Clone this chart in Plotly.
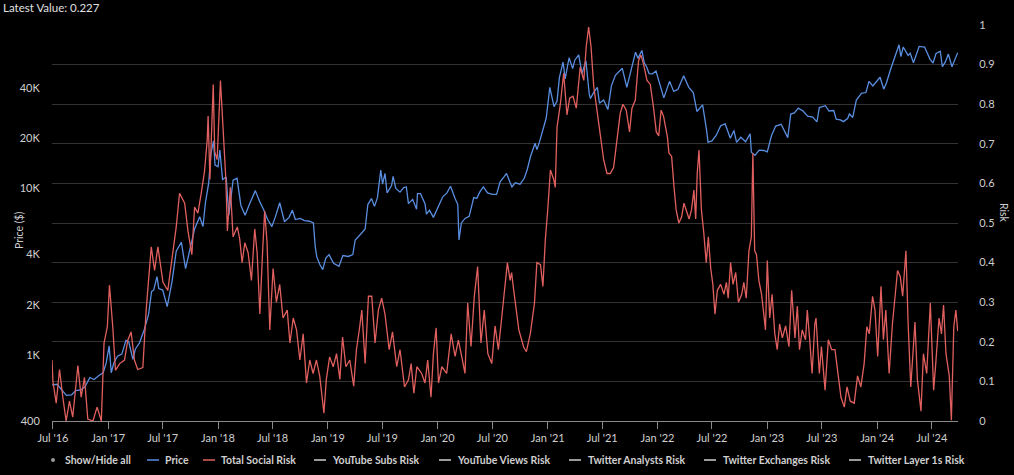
import math
import plotly.graph_objects as go

# ---------------- data ----------------
price_dates = [
    "2016-06-28", "2016-07-15", "2016-08-01", "2016-08-15", "2016-09-01", "2016-09-15", "2016-10-01",
    "2016-10-15", "2016-11-01", "2016-11-15", "2016-12-01", "2016-12-15", "2016-12-25", "2017-01-04",
    "2017-01-11", "2017-01-20", "2017-02-01", "2017-02-15", "2017-03-01", "2017-03-10", "2017-03-24",
    "2017-04-01", "2017-04-15", "2017-05-01", "2017-05-15", "2017-05-25", "2017-06-01", "2017-06-12",
    "2017-06-18", "2017-07-01", "2017-07-16", "2017-08-01", "2017-08-15", "2017-09-01", "2017-09-15",
    "2017-10-01", "2017-10-15", "2017-11-01", "2017-11-12", "2017-11-20", "2017-12-01", "2017-12-08",
    "2017-12-17", "2017-12-22", "2018-01-01", "2018-01-07", "2018-01-16", "2018-01-28", "2018-02-06",
    "2018-02-20", "2018-03-05", "2018-03-18", "2018-04-01", "2018-04-15", "2018-05-05", "2018-05-20",
    "2018-06-01", "2018-06-15", "2018-06-29", "2018-07-10", "2018-07-25", "2018-08-10", "2018-08-25",
    "2018-09-05", "2018-09-15", "2018-10-01", "2018-10-15", "2018-11-01", "2018-11-14", "2018-11-20",
    "2018-11-25", "2018-12-05", "2018-12-15", "2018-12-25", "2019-01-05", "2019-01-20", "2019-02-07",
    "2019-02-20", "2019-03-10", "2019-03-25", "2019-04-02", "2019-04-20", "2019-05-05", "2019-05-14",
    "2019-05-26", "2019-06-05", "2019-06-15", "2019-06-26", "2019-07-02", "2019-07-10", "2019-07-17",
    "2019-08-01", "2019-08-06", "2019-08-15", "2019-08-29", "2019-09-10", "2019-09-19", "2019-09-26",
    "2019-10-10", "2019-10-23", "2019-10-26", "2019-11-05", "2019-11-20", "2019-11-25", "2019-12-05",
    "2019-12-18", "2019-12-28", "2020-01-08", "2020-01-18", "2020-02-01", "2020-02-13", "2020-02-28",
    "2020-03-08", "2020-03-12", "2020-03-20", "2020-04-01", "2020-04-15", "2020-04-30", "2020-05-10",
    "2020-05-20", "2020-06-01", "2020-06-15", "2020-07-01", "2020-07-15", "2020-07-27", "2020-08-10",
    "2020-08-17", "2020-09-04", "2020-09-15", "2020-10-01", "2020-10-15", "2020-10-25", "2020-11-05",
    "2020-11-20", "2020-11-26", "2020-12-05", "2020-12-17", "2020-12-27", "2021-01-08", "2021-01-22",
    "2021-02-01", "2021-02-09", "2021-02-21", "2021-02-28", "2021-03-13", "2021-03-25", "2021-04-01",
    "2021-04-14", "2021-04-25", "2021-05-08", "2021-05-19", "2021-05-23", "2021-06-02", "2021-06-15",
    "2021-06-22", "2021-07-06", "2021-07-20", "2021-08-01", "2021-08-14", "2021-08-23", "2021-09-06",
    "2021-09-21", "2021-10-01", "2021-10-15", "2021-10-20", "2021-10-28", "2021-11-10", "2021-11-18",
    "2021-11-26", "2021-12-04", "2021-12-15", "2021-12-27", "2022-01-10", "2022-01-22", "2022-02-10",
    "2022-02-24", "2022-03-10", "2022-03-29", "2022-04-15", "2022-04-30", "2022-05-12", "2022-05-31",
    "2022-06-13", "2022-06-18", "2022-07-01", "2022-07-15", "2022-07-30", "2022-08-14", "2022-08-31",
    "2022-09-12", "2022-09-21", "2022-10-05", "2022-10-21", "2022-11-05", "2022-11-09", "2022-11-21",
    "2022-12-05", "2022-12-20", "2023-01-01", "2023-01-15", "2023-01-29", "2023-02-16", "2023-03-10",
    "2023-03-20", "2023-04-01", "2023-04-14", "2023-04-30", "2023-05-15", "2023-06-01", "2023-06-15",
    "2023-06-23", "2023-07-13", "2023-07-25", "2023-08-10", "2023-08-18", "2023-09-01", "2023-09-11",
    "2023-09-25", "2023-10-01", "2023-10-12", "2023-10-24", "2023-11-10", "2023-11-25", "2023-12-05",
    "2023-12-18", "2024-01-01", "2024-01-11", "2024-01-23", "2024-02-01", "2024-02-15", "2024-03-01",
    "2024-03-14", "2024-03-20", "2024-03-28", "2024-04-13", "2024-04-20", "2024-05-01", "2024-05-20",
    "2024-06-07", "2024-06-24", "2024-07-05", "2024-07-15", "2024-07-29", "2024-08-05", "2024-08-15",
    "2024-08-25", "2024-09-06", "2024-09-15", "2024-09-25",
]
price_values = [
    660, 665, 610, 570, 575, 610, 615,
    640, 730, 710, 750, 780, 890, 1130,
    780, 900, 980, 1010, 1220, 1200, 940,
    1080, 1180, 1420, 1750, 2400, 2450, 2950,
    2500, 2450, 1950, 2750, 4200, 4750, 3300,
    4350, 5700, 6750, 5900, 8200, 10800, 16000,
    19300, 13800, 13500, 17000, 11300, 11700, 6900,
    11200, 11500, 7900, 6900, 8000, 9700, 8300,
    7500, 6500, 5900, 6700, 8200, 6300, 6700,
    7400, 6500, 6600, 6400, 6350, 6200, 4500,
    3900, 3500, 3250, 3800, 4000, 3550, 3400,
    3950, 3900, 4000, 4900, 5300, 5700, 8000,
    8700, 7800, 8800, 12900, 10600, 12300, 9400,
    10400, 11800, 10000, 9500, 10100, 10200, 8100,
    8600, 7500, 9300, 9300, 8100, 7000, 7400,
    6700, 7300, 8100, 8900, 9400, 10300, 8700,
    8000, 4900, 6200, 6600, 6800, 8800, 8700,
    9500, 10200, 9400, 9200, 9200, 11000, 11800,
    12300, 10200, 10800, 10600, 11500, 13000, 15600,
    18700, 17100, 19100, 23000, 26500, 40500, 31000,
    33500, 46500, 57500, 45500, 61000, 52500, 59000,
    63500, 49000, 58500, 37000, 34700, 37500, 40500,
    32500, 34000, 29800, 41500, 47800, 49700, 52700,
    40500, 48000, 61500, 65900, 60500, 67500, 56900,
    53700, 49000, 48800, 50700, 41800, 35000, 44000,
    38300, 39400, 47500, 40500, 37700, 29000, 31800,
    22500, 19000, 19300, 20800, 23800, 24400, 20000,
    22300, 18900, 20300, 19100, 21300, 16500, 15800,
    17000, 16900, 16600, 20800, 23700, 24300, 20200,
    28000, 28400, 30400, 29200, 27200, 26800, 25100,
    30600, 31400, 29200, 29400, 26100, 25800, 25200,
    26300, 28000, 26700, 34000, 37300, 37700, 44000,
    41300, 44200, 46600, 39500, 43000, 52000, 62500,
    73000, 62000, 70800, 63000, 64900, 57000, 71400,
    70800, 60300, 56700, 64700, 66800, 54000, 57600,
    64200, 53900, 59300, 65500,
]

risk_dates = [
    "2016-06-28", "2016-07-01", "2016-07-12", "2016-07-23", "2016-08-03", "2016-08-14", "2016-08-25",
    "2016-09-05", "2016-09-22", "2016-10-03", "2016-10-14", "2016-10-25", "2016-11-11", "2016-11-25",
    "2016-12-09", "2016-12-18", "2016-12-29", "2017-01-05", "2017-01-16", "2017-01-25", "2017-02-08",
    "2017-02-24", "2017-03-07", "2017-03-18", "2017-03-29", "2017-04-09", "2017-04-26", "2017-05-07",
    "2017-05-24", "2017-06-04", "2017-06-15", "2017-07-02", "2017-07-18", "2017-08-04", "2017-08-15",
    "2017-08-26", "2017-09-12", "2017-09-23", "2017-10-06", "2017-10-15", "2017-10-26", "2017-11-06",
    "2017-11-17", "2017-11-26", "2017-11-29", "2017-12-05", "2017-12-16", "2017-12-21", "2017-12-29",
    "2018-01-09", "2018-01-18", "2018-01-27", "2018-02-01", "2018-02-11", "2018-02-20", "2018-03-06",
    "2018-03-14", "2018-03-22", "2018-03-31", "2018-04-11", "2018-04-22", "2018-05-03", "2018-05-11",
    "2018-05-20", "2018-05-29", "2018-06-05", "2018-06-13", "2018-06-22", "2018-07-03", "2018-07-14",
    "2018-07-25", "2018-08-05", "2018-08-19", "2018-08-28", "2018-09-08", "2018-09-19", "2018-09-30",
    "2018-10-11", "2018-10-22", "2018-11-02", "2018-11-13", "2018-11-24", "2018-12-05", "2018-12-19",
    "2018-12-27", "2019-01-07", "2019-01-19", "2019-01-30", "2019-02-10", "2019-02-19", "2019-03-02",
    "2019-03-15", "2019-03-28", "2019-04-06", "2019-04-17", "2019-04-24", "2019-05-05", "2019-05-16",
    "2019-05-27", "2019-06-07", "2019-06-18", "2019-06-29", "2019-07-10", "2019-07-24", "2019-08-04",
    "2019-08-18", "2019-08-29", "2019-09-13", "2019-09-26", "2019-10-05", "2019-10-14", "2019-10-24",
    "2019-11-09", "2019-11-20", "2019-11-29", "2019-12-10", "2019-12-18", "2019-12-27", "2020-01-04",
    "2020-01-15", "2020-01-31", "2020-02-15", "2020-02-28", "2020-03-10", "2020-03-21", "2020-04-01",
    "2020-04-10", "2020-04-21", "2020-05-02", "2020-05-13", "2020-05-24", "2020-06-04", "2020-06-16",
    "2020-06-29", "2020-07-10", "2020-07-21", "2020-08-07", "2020-08-20", "2020-08-29", "2020-09-03",
    "2020-09-10", "2020-09-27", "2020-10-13", "2020-10-22", "2020-11-04", "2020-11-18", "2020-11-26",
    "2020-12-08", "2020-12-16", "2020-12-24", "2021-01-01", "2021-01-10", "2021-01-21", "2021-01-26",
    "2021-02-01", "2021-02-12", "2021-02-23", "2021-03-06", "2021-03-15", "2021-03-26", "2021-04-06",
    "2021-04-19", "2021-05-01", "2021-05-09", "2021-05-17", "2021-05-25", "2021-06-03", "2021-06-14",
    "2021-06-25", "2021-07-06", "2021-07-17", "2021-07-28", "2021-08-08", "2021-08-19", "2021-08-30",
    "2021-09-08", "2021-09-19", "2021-09-30", "2021-10-08", "2021-10-19", "2021-10-30", "2021-11-07",
    "2021-11-16", "2021-11-27", "2021-12-08", "2021-12-19", "2021-12-28", "2022-01-05", "2022-01-13",
    "2022-01-21", "2022-02-03", "2022-02-08", "2022-02-17", "2022-02-25", "2022-03-04", "2022-03-13",
    "2022-03-22", "2022-03-30", "2022-04-07", "2022-04-16", "2022-04-24", "2022-05-02", "2022-05-08",
    "2022-05-13", "2022-05-19", "2022-05-27", "2022-06-04", "2022-06-12", "2022-06-19", "2022-06-27",
    "2022-07-04", "2022-07-11", "2022-07-19", "2022-07-30", "2022-08-10", "2022-08-18", "2022-08-24",
    "2022-09-01", "2022-09-09", "2022-09-18", "2022-09-27", "2022-10-08", "2022-10-15", "2022-10-23",
    "2022-11-01", "2022-11-09", "2022-11-14", "2022-11-20", "2022-11-26", "2022-12-04", "2022-12-13",
    "2022-12-21", "2022-12-26", "2023-01-01", "2023-01-09", "2023-01-17", "2023-01-26", "2023-02-03",
    "2023-02-11", "2023-02-20", "2023-03-03", "2023-03-14", "2023-03-23", "2023-04-03", "2023-04-11",
    "2023-04-18", "2023-04-27", "2023-05-08", "2023-05-14", "2023-05-22", "2023-05-30", "2023-06-08",
    "2023-06-12", "2023-06-23", "2023-06-30", "2023-07-12", "2023-07-23", "2023-08-03", "2023-08-14",
    "2023-08-25", "2023-09-03", "2023-09-14", "2023-09-23", "2023-10-04", "2023-10-17", "2023-10-28",
    "2023-11-08", "2023-11-19", "2023-11-28", "2023-12-06", "2023-12-17", "2023-12-25", "2024-01-03",
    "2024-01-14", "2024-01-22", "2024-01-30", "2024-02-10", "2024-02-21", "2024-02-29", "2024-03-09",
    "2024-03-18", "2024-03-26", "2024-04-06", "2024-04-13", "2024-04-22", "2024-05-06", "2024-05-14",
    "2024-05-26", "2024-06-03", "2024-06-14", "2024-06-26", "2024-07-07", "2024-07-14", "2024-07-25",
    "2024-08-02", "2024-08-09", "2024-08-17", "2024-08-28", "2024-09-04", "2024-09-12", "2024-09-19",
    "2024-09-25",
]
risk_values = [
    0.154, 0.10, 0.045, 0.13, 0.06, 0.0, 0.05,
    0.01, 0.14, 0.06, 0.11, 0.005, 0.0, 0.035,
    0.0, 0.197, 0.238, 0.343, 0.238, 0.128, 0.145,
    0.154, 0.204, 0.225, 0.154, 0.13, 0.135, 0.28,
    0.44, 0.38, 0.44, 0.35, 0.33, 0.42, 0.49,
    0.575, 0.55, 0.48, 0.42, 0.54, 0.525, 0.575,
    0.63, 0.71, 0.77, 0.61, 0.85, 0.68, 0.66,
    0.86, 0.735, 0.61, 0.48, 0.59, 0.465, 0.49,
    0.46, 0.40, 0.45, 0.425, 0.355, 0.485, 0.425,
    0.27, 0.425, 0.53, 0.45, 0.23, 0.385, 0.30,
    0.345, 0.26, 0.28, 0.197, 0.26, 0.23, 0.154,
    0.22, 0.096, 0.154, 0.12, 0.154, 0.114, 0.02,
    0.105, 0.162, 0.137, 0.17, 0.105, 0.212, 0.137,
    0.154, 0.088, 0.18, 0.238, 0.28, 0.145, 0.315,
    0.315, 0.197, 0.28, 0.31, 0.27, 0.18, 0.225,
    0.137, 0.18, 0.086, 0.104, 0.145, 0.07, 0.137,
    0.12, 0.096, 0.154, 0.06, 0.17, 0.235, 0.096,
    0.137, 0.12, 0.22, 0.163, 0.204, 0.163, 0.12,
    0.298, 0.188, 0.315, 0.39, 0.197, 0.28, 0.17,
    0.145, 0.24, 0.18, 0.305, 0.40, 0.355, 0.375,
    0.33, 0.23, 0.187, 0.175, 0.22, 0.298, 0.40,
    0.395, 0.34, 0.457, 0.533, 0.634, 0.61, 0.59,
    0.742, 0.80, 0.878, 0.773, 0.815, 0.82, 0.79,
    0.894, 0.86, 0.945, 0.995, 0.945, 0.845, 0.78,
    0.717, 0.66, 0.625, 0.625, 0.64, 0.71, 0.777,
    0.80, 0.785, 0.73, 0.79, 0.81, 0.91, 0.924,
    0.90, 0.86, 0.85, 0.79, 0.73, 0.72, 0.785,
    0.77, 0.717, 0.677, 0.668, 0.59, 0.533, 0.50,
    0.515, 0.55, 0.533, 0.51, 0.533, 0.583, 0.51,
    0.625, 0.684, 0.533, 0.474, 0.40, 0.465, 0.385,
    0.345, 0.27, 0.33, 0.345, 0.32, 0.35, 0.31,
    0.40, 0.345, 0.375, 0.30, 0.32, 0.35, 0.31,
    0.43, 0.465, 0.677, 0.43, 0.42, 0.355, 0.32,
    0.26, 0.23, 0.405, 0.26, 0.32, 0.22, 0.18,
    0.245, 0.21, 0.24, 0.188, 0.33, 0.21, 0.29,
    0.18, 0.23, 0.205, 0.28, 0.205, 0.12, 0.245,
    0.26, 0.12, 0.188, 0.078, 0.205, 0.18, 0.18,
    0.114, 0.06, 0.035, 0.086, 0.05, 0.045, 0.114,
    0.086, 0.145, 0.238, 0.22, 0.315, 0.28, 0.163,
    0.34, 0.205, 0.28, 0.12, 0.245, 0.31, 0.38,
    0.365, 0.315, 0.43, 0.25, 0.086, 0.25, 0.105,
    0.025, 0.17, 0.12, 0.298, 0.078, 0.145, 0.26,
    0.22, 0.293, 0.17, 0.114, 0.002, 0.238, 0.28,
    0.227,
]

legend_labels = [
    "Show/Hide all", "Price", "Total Social Risk", "YouTube Subs Risk", "YouTube Views Risk",
    "Twitter Analysts Risk", "Twitter Exchanges Risk", "Twitter Layer 1s Risk",
]

price_ticks = [400, 1000, 2000, 4000, 10000, 20000, 40000]
price_tick_labels = ["400", "1K", "2K", "4K", "10K", "20K", "40K"]
date_range = ["2016-06-28", "2024-09-26"]
latest_value = risk_values[-1]

# ---------------- styles / layout constants ----------------
FONT = "Lato"
TXT = "#cfcfcf"
BLUE = "#5a8ee0"
RED = "#e0605f"
GREY_SYM = "#cfcfcf"
BG = "#000000"
W, H = 1014, 475
ML, MR, MT, MB = 52, 56, 25, 54
PW, PH = W - ML - MR, H - MT - MB

# legend layout (pixel positions within the page)
legend_sym_px = [53, 147, 203, 314, 439, 569, 704, 849]
legend_txt_px = [63, 163, 219, 330, 455, 586, 721, 866]
legend_sym_colors = ["#9a9a9a", BLUE, RED, GREY_SYM, GREY_SYM, GREY_SYM, GREY_SYM, GREY_SYM]
LEGEND_Y_PX = 460


def px_x(px):
    return (px - ML) / PW


def px_y(py):
    return (H - MB - py) / PH


fig = go.Figure()
fig.add_trace(go.Scatter(
    x=price_dates, y=price_values, mode="lines", name="Price",
    line=dict(color=BLUE, width=1.3), yaxis="y", showlegend=False,
))
fig.add_trace(go.Scatter(
    x=risk_dates, y=risk_values, mode="lines", name="Total Social Risk",
    line=dict(color=RED, width=1.3), yaxis="y2", showlegend=False,
))

shapes = []
annotations = [
    dict(text="Price ($)", xref="paper", yref="paper", x=px_x(11), y=px_y(230),
         textangle=-90, showarrow=False, font=dict(family=FONT, size=10.5, color=TXT)),
    dict(text="Risk", xref="paper", yref="paper", x=px_x(1004), y=px_y(213),
         xanchor="center", yanchor="middle",
         textangle=90, showarrow=False, font=dict(family=FONT, size=10.5, color=TXT)),
]
ly = px_y(LEGEND_Y_PX)
for i, (label, sx, tx, col) in enumerate(zip(legend_labels, legend_sym_px, legend_txt_px, legend_sym_colors)):
    if i == 0:
        shapes.append(dict(type="circle", xref="paper", yref="paper",
                           x0=px_x(sx - 2), x1=px_x(sx + 2), y0=px_y(LEGEND_Y_PX + 2), y1=px_y(LEGEND_Y_PX - 2),
                           fillcolor=col, line=dict(width=0)))
    else:
        shapes.append(dict(type="line", xref="paper", yref="paper",
                           x0=px_x(sx), x1=px_x(sx + 12), y0=ly, y1=ly,
                           line=dict(color=col, width=1.5)))
    annotations.append(dict(text=f"<b>{label}</b>", xref="paper", yref="paper",
                            x=px_x(tx), y=ly, xanchor="left", yanchor="middle",
                            showarrow=False, font=dict(family=FONT, size=10.5, color=TXT)))

fig.update_layout(
    width=W, height=H,
    paper_bgcolor=BG, plot_bgcolor=BG,
    margin=dict(l=ML, r=MR, t=MT, b=MB, autoexpand=False),
    font=dict(family=FONT, color=TXT, size=11),
    title=dict(
        text=f"Latest Value: {latest_value}", x=0.003, xanchor="left",
        y=0.983, yanchor="middle", yref="container",
        font=dict(family=FONT, size=11.5, color="#e0e0e0"),
    ),
    showlegend=False,
    xaxis=dict(
        type="date", range=date_range, tick0="2016-07-01", dtick="M6",
        tickformat="%b '%y", showgrid=False, zeroline=False,
        showline=True, linecolor="#8a8a8a", linewidth=1,
        ticks="outside", ticklen=7, tickcolor="#8a8a8a",
        tickfont=dict(family=FONT, size=11, color=TXT),
    ),
    yaxis=dict(
        type="log", range=[math.log10(400), math.log10(96000)],
        tickvals=price_ticks, ticktext=price_tick_labels,
        showgrid=False, zeroline=False, showline=False,
        ticks="outside", ticklen=9, tickcolor=BG,
        tickfont=dict(family=FONT, size=11, color=TXT),
    ),
    yaxis2=dict(
        overlaying="y", side="right", range=[0, 1], dtick=0.1, tick0=0,
        showgrid=True, gridcolor="#333333", gridwidth=1, zeroline=False,
        showline=False, ticks="outside", ticklen=18, tickcolor=BG,
        tickfont=dict(family=FONT, size=11, color=TXT),
    ),
    shapes=shapes,
    annotations=annotations,
)

fig.write_html("out.html")
